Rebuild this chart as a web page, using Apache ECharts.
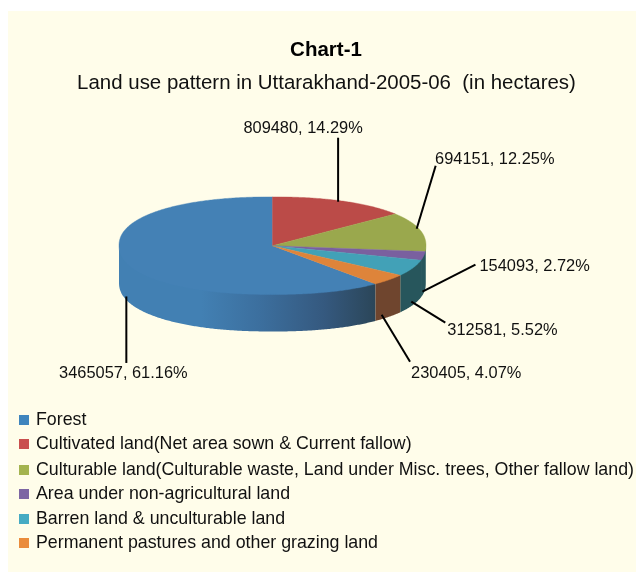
<!DOCTYPE html>
<html><head><meta charset="utf-8">
<style>html,body{margin:0;padding:0;background:#fff}#c{width:636px;height:572px}</style>
<script src="https://cdn.jsdelivr.net/npm/echarts@6/dist/echarts.min.js"></script>
</head><body><div id="c"></div>
<script>
const categories = [
  'Forest',
  'Cultivated land(Net area sown & Current fallow)',
  'Culturable land(Culturable waste, Land under Misc. trees, Other fallow land)',
  'Area under non-agricultural land',
  'Barren land & unculturable land',
  'Permanent pastures and other grazing land'
];
const hectares = [3465057, 809480, 694151, 154093, 312581, 230405];

// styles
const legendColors = ['#3f85bd', '#c94f4e', '#a4b450', '#7d66a3', '#46abc3', '#ea8c3c'];
const topColors = ['#4481b5', '#bb4b48', '#9aa84d', '#7a609f', '#42a1b7', '#de843a'];
const wallColors = [null, null, '#27565c', '#27565c', '#27565c', '#6f452e'];
const legendSwatchY = [420, 444, 470, 494, 519, 543];
const legendTextShift = [1, -2, -3, -3, -0.5, -1];
// leader line: nudge of the rim anchor, offset of the outer end, and label placement (all relative to the rim anchor)
const leaderIn = [[-2, -3], [-1, 0], [-3, -3], [-1, 0], [0, -2], [-4, -1]];
const leaderOut = [[-2, 63.5], [-1, -64], [16, -66], [52, -27], [34, 19], [24.4, 46]];
const labelPos = [[-5, 74.5, 'center'], [-36, -73.5, 'center'], [15.4, -72.5, 'left'], [56, -25, 'left'], [36, 26.5, 'left'], [25.4, 57.5, 'left']];

// pie geometry
const cx = 272.5, cy = 245.7, rx = 153.5, ry = 48.8, depth = 37, superE = 2.2;
const total = hectares.reduce((a, b) => a + b, 0);
const rad = v => v / total * 2 * Math.PI;
// Forest ends at 12 o'clock, the others follow clockwise
let start = -rad(hectares[0]);
const angles = hectares.map(v => { const a = [start, start + rad(v)]; start = a[1]; return a; });

function rim(t, dy) {
  const s = Math.sin(t), c = Math.cos(t), p = 2 / superE;
  return [cx + rx * Math.sign(s) * Math.pow(Math.abs(s), p), cy + dy - ry * Math.sign(c) * Math.pow(Math.abs(c), p)];
}
function arc(a, b, dy) {
  const n = Math.max(2, Math.ceil((b - a) / 0.01)), out = [];
  for (let i = 0; i <= n; i++) out.push(rim(a + (b - a) * i / n, dy));
  return out;
}
function norm(t) { return ((t % (2 * Math.PI)) + 2 * Math.PI) % (2 * Math.PI); }

function makeRender(i) {
  return function (params, api) {
    const [a, b] = angles[i];
    const children = [];
    // side wall: only the part of the rim facing the viewer
    const lo = Math.max(a, Math.PI / 2), hi = Math.min(b, 3 * Math.PI / 2);
    let w0 = lo, w1 = hi;
    if (i === 0) { w0 = a + 2 * Math.PI; w1 = 3 * Math.PI / 2; }
    if (w1 > w0) {
      const fill = i === 0 ? {
        type: 'linear', x: 119, y: 0, x2: 375, y2: 0, global: true,
        colorStops: [{offset: 0, color: '#4280b3'}, {offset: 0.32, color: '#4280b3'}, {offset: 0.55, color: '#3c6f9e'}, {offset: 0.8, color: '#35597f'}, {offset: 1, color: '#2b4659'}]
      } : wallColors[i];
      children.push({ type: 'polygon', z2: 1, shape: { points: arc(w0, w1, -2).concat(arc(w0, w1, depth).reverse()) }, style: { fill } });
    }
    // top face
    children.push({ type: 'polygon', z2: 2, shape: { points: [[cx, cy]].concat(arc(a, b, 0)) }, style: { fill: topColors[i], stroke: topColors[i], lineWidth: 0.4 } });
    // leader and label, anchored on the rim at the slice's mid angle
    const mid = norm((a + b) / 2);
    const front = mid > Math.PI / 2 && mid < 3 * Math.PI / 2;
    const ax = cx + rx * Math.sin(mid), ay = cy + (front ? depth : 0) - ry * Math.cos(mid);
    const n = leaderIn[i], o = leaderOut[i], l = labelPos[i];
    const v = api.value(0);
    children.push({ type: 'line', z2: 3, shape: { x1: ax + n[0], y1: ay + n[1], x2: ax + o[0], y2: ay + o[1] }, style: { stroke: '#000', lineWidth: 2 } });
    children.push({ type: 'text', z2: 4, x: ax + l[0], y: ay + l[1],
      style: { text: v + ', ' + (v / total * 100).toFixed(2) + '%', fill: '#111', font: '16.4px "Liberation Sans"', align: l[2], verticalAlign: 'middle' } });
    return { type: 'group', children };
  };
}

const option = {
  animation: false,
  title: [
    { text: 'Chart-1', left: 321, top: 35, textAlign: 'center', textStyle: { fontFamily: 'Liberation Sans', fontSize: 20.5, fontWeight: 'bold', color: '#000' } },
    { text: 'Land use pattern in Uttarakhand-2005-06  (in hectares)', left: 321.5, top: 68, textAlign: 'center', textStyle: { fontFamily: 'Liberation Sans', fontSize: 20.45, fontWeight: 'normal', color: '#111' } }
  ],
  legend: categories.map((name, i) => {
    const d = legendTextShift[i];
    return {
      data: [name], left: 14, top: legendSwatchY[i] - 14, icon: 'rect', itemWidth: 10, itemHeight: 10, itemGap: 0,
      selectedMode: false, padding: 5,
      textStyle: { fontFamily: 'Liberation Sans', fontSize: 17.8, color: '#111',
        padding: [d > 0 ? 2 * d : 0, 0, d < 0 ? -2 * d : 0, 2] }
    };
  }),
  graphic: [{ type: 'rect', z: -10, shape: { x: 8, y: 11, width: 628, height: 561 }, style: { fill: '#fffdea' } }],
  series: categories.map((name, i) => ({
    type: 'custom', name, coordinateSystem: 'none', data: [hectares[i]],
    itemStyle: { color: legendColors[i] }, renderItem: makeRender(i), silent: true, clip: false
  }))
};
echarts.init(document.getElementById('c'), null, { renderer: 'canvas' }).setOption(option);
</script></body></html>
